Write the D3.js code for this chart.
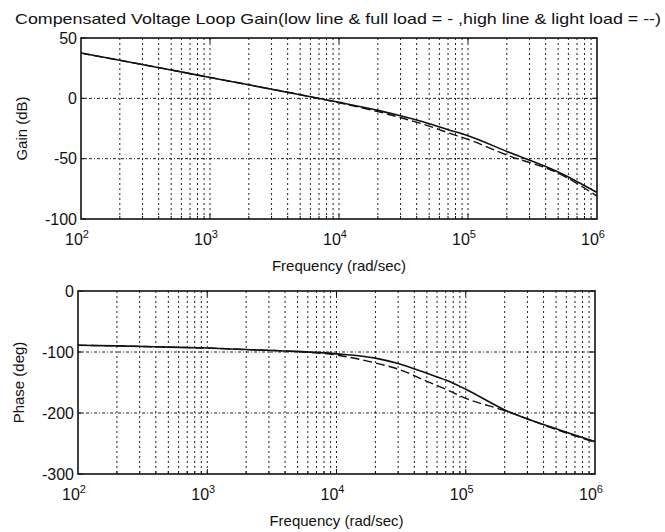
<!DOCTYPE html>
<html><head><meta charset="utf-8">
<script src="https://cdn.jsdelivr.net/npm/d3@7"></script>
<style>
html,body{margin:0;padding:0;background:#fff;}
text{font-family:"Liberation Sans",Arial,sans-serif;fill:#111;}
</style></head>
<body><svg id="chart" width="665" height="532"></svg>
<script>
const titleText = "Compensated Voltage Loop Gain(low line & full load = - ,high line & light load = --)";
const freqs = [1e2, 2e2, 5e2, 1e3, 2e3, 5e3, 1e4, 2e4, 3e4, 5e4, 7e4, 1e5, 2e5, 5e5, 1e6];
const gainLowFull   = [37.5, 31.5, 23.5, 17.3, 11.2, 3.0, -3.3, -10, -14.5, -21, -26, -31, -44, -61, -78];
const gainHighLight = [37.5, 31.5, 23.5, 17.3, 11.2, 3.0, -3.7, -11, -16, -23, -28.5, -34, -47, -62, -81];
const phaseLowFull   = [-89, -90, -92, -93.5, -96, -99, -103, -110, -119, -135, -146, -161, -195, -226, -247];
const phaseHighLight = [-89, -90, -92, -93.5, -96, -99.5, -105, -118, -128, -148, -161, -176, -196, -227, -248];
const gainTicks = [50, 0, -50, -100];
const phaseTicks = [0, -100, -200, -300];
const decadeTicks = [2, 3, 4, 5, 6];

const svg = d3.select("#chart");

svg.append("text").attr("x", 338).attr("y", 24).attr("text-anchor", "middle")
  .attr("font-size", 15).attr("textLength", 646).attr("lengthAdjust", "spacingAndGlyphs")
  .text(titleText);

function panel(box, yDomain, yTicks, ylabel, s1, s2) {
  const x = d3.scaleLog().domain([1e2, 1e6]).range([box.l, box.r]);
  const y = d3.scaleLinear().domain(yDomain).range([box.b, box.t]);
  const g = svg.append("g");
  const minors = [];
  for (let d = 2; d < 6; d++) for (let m = 2; m <= 9; m++) minors.push(m * Math.pow(10, d));
  const majors = [1e3, 1e4, 1e5];
  g.selectAll(".vg").data(minors.concat(majors)).enter().append("line")
    .attr("x1", d => x(d)).attr("x2", d => x(d)).attr("y1", box.t).attr("y2", box.b)
    .attr("stroke", "#222").attr("stroke-width", 1).attr("stroke-dasharray", "2,3");
  g.selectAll(".hg").data(yTicks.slice(1, -1)).enter().append("line")
    .attr("x1", box.l).attr("x2", box.r).attr("y1", d => y(d)).attr("y2", d => y(d))
    .attr("stroke", "#222").attr("stroke-width", 1).attr("stroke-dasharray", "3,2,1,2");
  const tl = 5;
  g.selectAll(".tb").data(majors).enter().append("line")
    .attr("x1", d => x(d)).attr("x2", d => x(d)).attr("y1", box.b).attr("y2", box.b - tl)
    .attr("stroke", "#111");
  g.selectAll(".tt").data(majors).enter().append("line")
    .attr("x1", d => x(d)).attr("x2", d => x(d)).attr("y1", box.t).attr("y2", box.t + tl)
    .attr("stroke", "#111");
  g.selectAll(".tbm").data(minors).enter().append("line")
    .attr("x1", d => x(d)).attr("x2", d => x(d)).attr("y1", box.b).attr("y2", box.b - 3)
    .attr("stroke", "#111");
  g.selectAll(".tl").data(yTicks).enter().append("line")
    .attr("x1", box.l).attr("x2", box.l + tl).attr("y1", d => y(d)).attr("y2", d => y(d))
    .attr("stroke", "#111");
  g.selectAll(".tr").data(yTicks).enter().append("line")
    .attr("x1", box.r).attr("x2", box.r - tl).attr("y1", d => y(d)).attr("y2", d => y(d))
    .attr("stroke", "#111");
  const line1 = d3.line().x((d, i) => x(freqs[i])).y(d => y(d)).curve(d3.curveMonotoneX);
  g.append("path").attr("d", line1(s2)).attr("fill", "none").attr("stroke", "#111")
    .attr("stroke-width", 1.4).attr("stroke-dasharray", "9,4");
  g.append("path").attr("d", line1(s1)).attr("fill", "none").attr("stroke", "#111")
    .attr("stroke-width", 1.6);
  g.append("rect").attr("x", box.l).attr("y", box.t).attr("width", box.r - box.l).attr("height", box.b - box.t)
    .attr("fill", "none").attr("stroke", "#111").attr("stroke-width", 1.6);
  g.selectAll(".yl").data(yTicks).enter().append("text")
    .attr("x", box.l - 4).attr("y", d => y(d) + 5.5).attr("text-anchor", "end")
    .attr("font-size", 16).text(d => d);
  const xl = g.selectAll(".xl").data(decadeTicks).enter().append("text")
    .attr("x", d => x(Math.pow(10, d)) - 4).attr("y", box.b + 26).attr("text-anchor", "middle")
    .attr("font-size", 16);
  xl.append("tspan").text("10");
  xl.append("tspan").attr("dy", -7).attr("font-size", 11).text(d => d);
  g.append("text").attr("x", (box.l + box.r) / 2).attr("y", box.b + 52).attr("text-anchor", "middle")
    .attr("font-size", 15).text("Frequency (rad/sec)");
  g.append("text").attr("transform", `translate(${box.l - 54},${(box.t + box.b) / 2}) rotate(-90)`)
    .attr("text-anchor", "middle").attr("font-size", 15).text(ylabel);
}

panel({l: 81, r: 597, t: 38, b: 219}, [-100, 50], gainTicks, "Gain (dB)", gainLowFull, gainHighLight);
panel({l: 78, r: 595, t: 291, b: 474}, [-300, 0], phaseTicks, "Phase (deg)", phaseLowFull, phaseHighLight);
</script></body></html>
